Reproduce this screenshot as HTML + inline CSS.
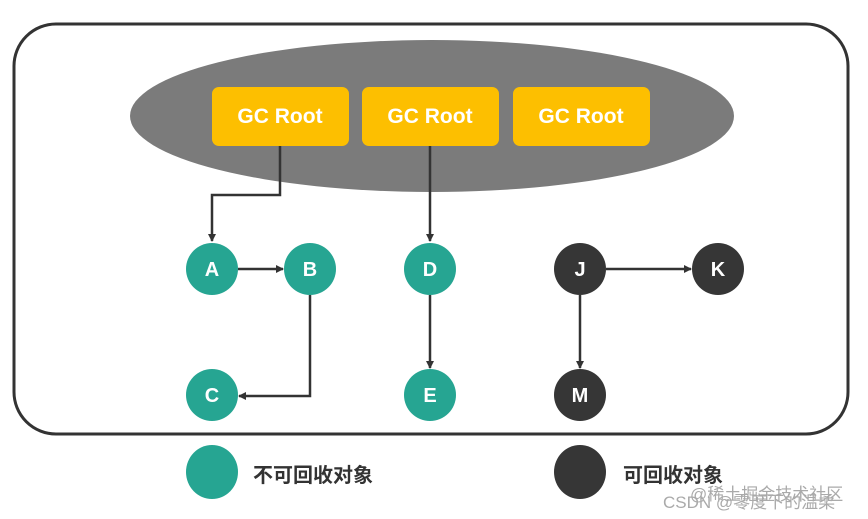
<!DOCTYPE html>
<html><head><meta charset="utf-8"><style>
html,body{margin:0;padding:0;background:#fff;}
</style></head><body>
<svg width="868" height="519" viewBox="0 0 868 519" xmlns="http://www.w3.org/2000/svg" style="display:block">
<defs>
<marker id="ar" markerWidth="8" markerHeight="8" refX="7" refY="4" orient="auto" markerUnits="userSpaceOnUse">
<path d="M0,0 L8,4 L0,8 Z" fill="#333"/>
</marker>
</defs>
<rect x="14" y="24" width="834" height="410" rx="42" fill="none" stroke="#333" stroke-width="3"/>
<ellipse cx="432" cy="116" rx="302" ry="76" fill="#7b7b7b"/>
<g fill="#fdbf00">
<rect x="212" y="87" width="137" height="59" rx="7"/>
<rect x="362" y="87" width="137" height="59" rx="7"/>
<rect x="513" y="87" width="137" height="59" rx="7"/>
</g>
<g font-family="Liberation Sans, sans-serif" font-weight="bold" font-size="21" fill="#fff" text-anchor="middle">
<text x="280" y="123">GC Root</text>
<text x="430" y="123">GC Root</text>
<text x="581" y="123">GC Root</text>
</g>
<g stroke="#333" stroke-width="2.5" fill="none">
<polyline points="280,146 280,195 212,195 212,241" marker-end="url(#ar)"/>
<line x1="430" y1="146" x2="430" y2="241" marker-end="url(#ar)"/>
<line x1="238" y1="269" x2="283" y2="269" marker-end="url(#ar)"/>
<polyline points="310,295 310,396 239,396" marker-end="url(#ar)"/>
<line x1="430" y1="295" x2="430" y2="368" marker-end="url(#ar)"/>
<line x1="606" y1="269" x2="691" y2="269" marker-end="url(#ar)"/>
<line x1="580" y1="295" x2="580" y2="368" marker-end="url(#ar)"/>
</g>
<g fill="#26a592">
<circle cx="212" cy="269" r="26"/><circle cx="310" cy="269" r="26"/><circle cx="430" cy="269" r="26"/>
<circle cx="212" cy="395" r="26"/><circle cx="430" cy="395" r="26"/>
<ellipse cx="212" cy="472" rx="26" ry="27"/>
</g>
<g fill="#363636">
<circle cx="580" cy="269" r="26"/><circle cx="718" cy="269" r="26"/><circle cx="580" cy="395" r="26"/>
<ellipse cx="580" cy="472" rx="26" ry="27"/>
</g>
<g font-family="Liberation Sans, sans-serif" font-weight="bold" font-size="20" fill="#fff" text-anchor="middle">
<text x="212" y="276">A</text><text x="310" y="276">B</text><text x="430" y="276">D</text>
<text x="212" y="402">C</text><text x="430" y="402">E</text>
<text x="580" y="276">J</text><text x="718" y="276">K</text><text x="580" y="402">M</text>
</g>
<g font-family="Liberation Sans, Noto Sans CJK SC, sans-serif" font-weight="bold" font-size="20" fill="#333">
<text x="253" y="482">不可回收对象</text>
<text x="623" y="482">可回收对象</text>
</g>
<g font-family="Liberation Sans, Noto Sans CJK SC, sans-serif" font-size="17" fill="#aaa">
<text x="690" y="500">@稀土掘金技术社区</text>
<text x="663" y="508">CSDN @零度下的温柔</text>
</g>
</svg>
</body></html>
